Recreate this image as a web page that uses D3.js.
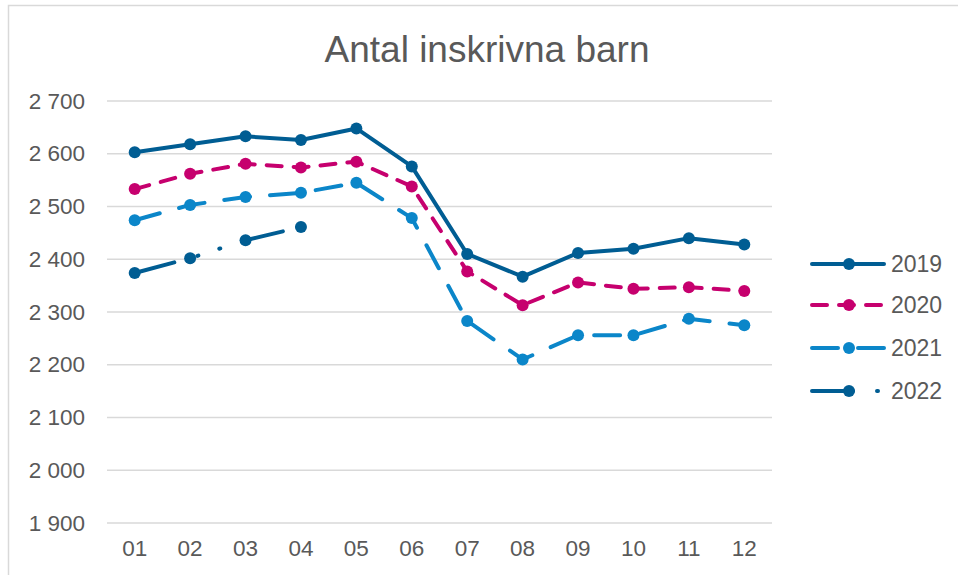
<!DOCTYPE html>
<html>
<head>
<meta charset="utf-8">
<script src="https://cdn.jsdelivr.net/npm/d3@7"></script>
<style>
  html, body { margin: 0; padding: 0; background: #fff; }
  svg { display: block; font-family: "Liberation Sans", Arial, sans-serif; }
</style>
</head>
<body>
<svg id="chart" width="958" height="575"></svg>
<script>
// Months on the category axis
const months = ["01", "02", "03", "04", "05", "06", "07", "08", "09", "10", "11", "12"];

// Enrolled children per month and year
const values2019 = [2603, 2618, 2633, 2626, 2648, 2576, 2410, 2367, 2412, 2420, 2440, 2428];
const values2020 = [2533, 2562, 2581, 2574, 2585, 2538, 2377, 2313, 2356, 2344, 2347, 2340];
const values2021 = [2474, 2503, 2518, 2526, 2545, 2478, 2283, 2210, 2256, 2256, 2287, 2275];
const values2022 = [2374, 2402, 2436, 2461];

const yTicks = [1900, 2000, 2100, 2200, 2300, 2400, 2500, 2600, 2700];
const seriesNames = ["2019", "2020", "2021", "2022"];

const series = [
  { name: seriesNames[0], values: values2019, color: "#005d93", dash: null },
  { name: seriesNames[1], values: values2020, color: "#c6006e", dash: "15,12" },
  { name: seriesNames[2], values: values2021, color: "#0b86c9", dash: "26,20" },
  { name: seriesNames[3], values: values2022, color: "#005d93", dash: "41,24,1,22,1,24" }
];

const svg = d3.select("#chart");
const textColor = "#595959";
const gridColor = "#d9d9d9";

// Outer chart frame
svg.append("rect")
  .attr("x", 8.5).attr("y", 5.5)
  .attr("width", 960).attr("height", 580)
  .attr("fill", "#fff")
  .attr("stroke", gridColor).attr("stroke-width", 1.5);

const plot = { left: 107, right: 772, top: 101, bottom: 523 };

const x = d3.scaleBand().domain(months).range([plot.left, plot.right]);
const y = d3.scaleLinear().domain([1900, 2700]).range([plot.bottom, plot.top]);
const fmt = v => d3.format(",")(v).replace(/,/g, " ");

// Title
svg.append("text")
  .attr("x", 487).attr("y", 62)
  .attr("text-anchor", "middle")
  .attr("fill", textColor)
  .attr("font-size", 37)
  .text("Antal inskrivna barn");

// Horizontal gridlines
svg.append("g")
  .selectAll("line")
  .data(yTicks)
  .join("line")
  .attr("x1", plot.left).attr("x2", plot.right)
  .attr("y1", d => y(d)).attr("y2", d => y(d))
  .attr("stroke", gridColor).attr("stroke-width", 1.5);

// Y axis labels
const yAxis = d3.axisLeft(y).tickValues(yTicks).tickSize(0).tickPadding(22).tickFormat(fmt);
const gy = svg.append("g").attr("transform", `translate(${plot.left},0)`).call(yAxis);
gy.select(".domain").remove();
gy.selectAll("text")
  .attr("fill", textColor)
  .attr("font-size", 22.5)
  .attr("font-family", "Liberation Sans, Arial, sans-serif");

// X axis labels
const xAxis = d3.axisBottom(x).tickSize(0).tickPadding(17);
const gx = svg.append("g").attr("transform", `translate(0,${plot.bottom})`).call(xAxis);
gx.select(".domain").remove();
gx.selectAll("text")
  .attr("fill", textColor)
  .attr("font-size", 22.5)
  .attr("font-family", "Liberation Sans, Arial, sans-serif");

const cx = m => x(m) + x.bandwidth() / 2;
const line = d3.line().x((d, i) => cx(months[i])).y(d => y(d));

// Series lines and markers
series.forEach(s => {
  const g = svg.append("g");
  g.append("path")
    .datum(s.values)
    .attr("d", line)
    .attr("fill", "none")
    .attr("stroke", s.color)
    .attr("stroke-width", 4)
    .attr("stroke-linecap", "round")
    .attr("stroke-linejoin", "round")
    .attr("stroke-dasharray", s.dash);
  g.selectAll("circle")
    .data(s.values)
    .join("circle")
    .attr("cx", (d, i) => cx(months[i]))
    .attr("cy", d => y(d))
    .attr("r", 6)
    .attr("fill", s.color);
});

// Legend
const legendY = [264, 305, 348, 391];
const legend = svg.append("g");
series.forEach((s, i) => {
  const g = legend.append("g").attr("transform", `translate(0,${legendY[i]})`);
  g.append("line")
    .attr("x1", 812).attr("x2", 884)
    .attr("y1", 0).attr("y2", 0)
    .attr("stroke", s.color)
    .attr("stroke-width", 4)
    .attr("stroke-linecap", "round")
    .attr("stroke-dasharray", s.dash);
  g.append("circle").attr("cx", 849).attr("cy", 0).attr("r", 6).attr("fill", s.color);
  g.append("text")
    .attr("x", 891).attr("y", 0).attr("dy", "0.36em")
    .attr("fill", textColor)
    .attr("font-size", 23)
    .text(s.name);
});
</script>
</body>
</html>
